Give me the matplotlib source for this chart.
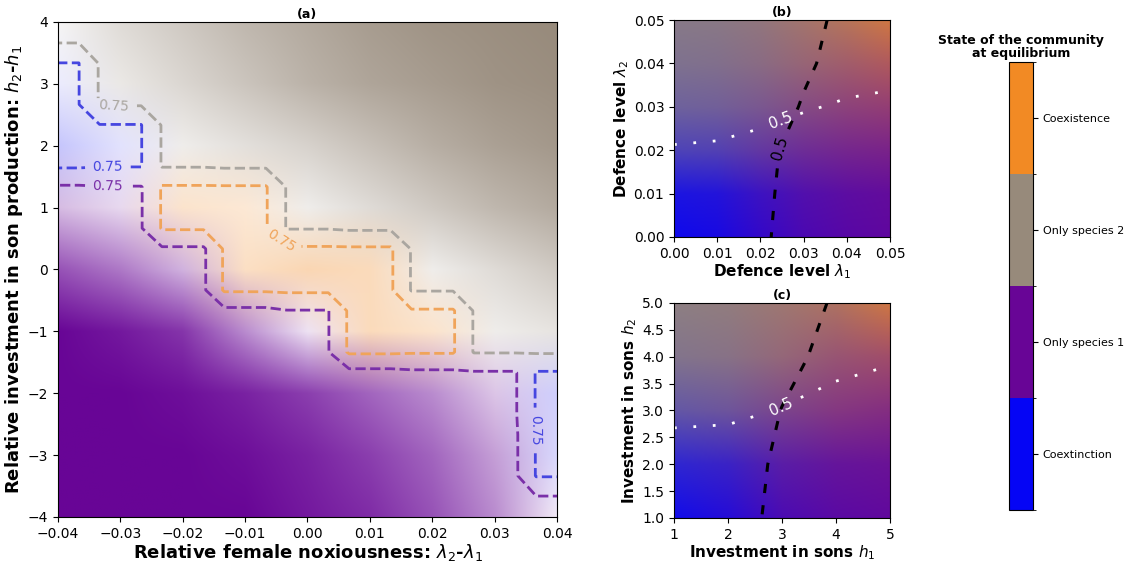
import numpy as np
import matplotlib
matplotlib.use('Agg')
import matplotlib.pyplot as plt
from matplotlib.colors import ListedColormap, BoundaryNorm, to_rgb
from matplotlib.cm import ScalarMappable

# states, bottom to top of the colour bar
state_names = ['Coextinction', 'Only species 1', 'Only species 2', 'Coexistence']
state_colors = ['#0505f5', '#680596', '#978a7b', '#f28a24']
line_colors = ['#4646e0', '#7a30a8', '#aaa6a0', '#f0a45a']

# ---- panel (a): probability of each state, rows from top (4) to bottom (-4)
dlam = [-0.04, -0.03, -0.02, -0.01, 0.0, 0.01, 0.02, 0.03, 0.04]
dh = [4, 3, 2, 1, 0, -1, -2, -3, -4]

p_coext = [
    [0.20, 0.05, 0.00, 0.00, 0.00, 0.00, 0.00, 0.00, 0.00],
    [0.76, 0.15, 0.00, 0.00, 0.00, 0.00, 0.00, 0.00, 0.00],
    [0.80, 0.77, 0.05, 0.00, 0.00, 0.00, 0.00, 0.00, 0.00],
    [0.15, 0.05, 0.00, 0.00, 0.00, 0.00, 0.00, 0.00, 0.00],
    [0.00, 0.00, 0.00, 0.00, 0.00, 0.00, 0.00, 0.00, 0.05],
    [0.00, 0.00, 0.00, 0.00, 0.00, 0.00, 0.00, 0.05, 0.15],
    [0.00, 0.00, 0.00, 0.00, 0.00, 0.00, 0.00, 0.05, 0.79],
    [0.00, 0.00, 0.00, 0.00, 0.00, 0.00, 0.00, 0.08, 0.78],
    [0.00, 0.00, 0.00, 0.00, 0.00, 0.00, 0.00, 0.05, 0.20],
]
p_sp1 = [
    [0.00, 0.00, 0.00, 0.00, 0.00, 0.00, 0.00, 0.00, 0.00],
    [0.02, 0.00, 0.00, 0.00, 0.00, 0.00, 0.00, 0.00, 0.00],
    [0.10, 0.05, 0.02, 0.00, 0.00, 0.00, 0.00, 0.00, 0.00],
    [0.81, 0.78, 0.15, 0.08, 0.02, 0.00, 0.00, 0.00, 0.00],
    [0.92, 0.88, 0.82, 0.16, 0.10, 0.05, 0.02, 0.00, 0.00],
    [1.00, 0.98, 0.95, 0.86, 0.77, 0.10, 0.05, 0.02, 0.00],
    [1.00, 1.00, 0.99, 0.97, 0.94, 0.90, 0.86, 0.80, 0.03],
    [1.00, 1.00, 1.00, 0.99, 0.97, 0.94, 0.90, 0.84, 0.05],
    [1.00, 1.00, 1.00, 1.00, 0.98, 0.96, 0.92, 0.86, 0.76],
]
p_sp2 = [
    [0.76, 0.82, 0.86, 0.90, 0.93, 0.96, 0.98, 0.99, 1.00],
    [0.20, 0.79, 0.83, 0.87, 0.91, 0.94, 0.96, 0.98, 0.99],
    [0.05, 0.15, 0.78, 0.81, 0.84, 0.88, 0.92, 0.95, 0.97],
    [0.02, 0.12, 0.05, 0.14, 0.78, 0.82, 0.86, 0.90, 0.93],
    [0.00, 0.05, 0.08, 0.03, 0.08, 0.15, 0.78, 0.82, 0.86],
    [0.00, 0.00, 0.03, 0.05, 0.04, 0.08, 0.15, 0.78, 0.80],
    [0.00, 0.00, 0.00, 0.02, 0.05, 0.08, 0.12, 0.15, 0.15],
    [0.00, 0.00, 0.00, 0.00, 0.02, 0.05, 0.08, 0.12, 0.17],
    [0.00, 0.00, 0.00, 0.00, 0.00, 0.03, 0.06, 0.10, 0.04],
]
p_coex = [
    [0.00, 0.00, 0.00, 0.00, 0.00, 0.00, 0.00, 0.00, 0.00],
    [0.00, 0.00, 0.05, 0.05, 0.02, 0.00, 0.00, 0.00, 0.00],
    [0.00, 0.00, 0.15, 0.15, 0.10, 0.05, 0.02, 0.00, 0.00],
    [0.00, 0.00, 0.80, 0.79, 0.15, 0.10, 0.05, 0.00, 0.00],
    [0.00, 0.00, 0.10, 0.81, 0.83, 0.82, 0.15, 0.05, 0.00],
    [0.00, 0.00, 0.00, 0.05, 0.20, 0.82, 0.80, 0.15, 0.00],
    [0.00, 0.00, 0.00, 0.00, 0.02, 0.05, 0.05, 0.05, 0.00],
    [0.00, 0.00, 0.00, 0.00, 0.00, 0.00, 0.00, 0.00, 0.00],
    [0.00, 0.00, 0.00, 0.00, 0.00, 0.00, 0.00, 0.00, 0.00],
]

# ---- panel (b): persistence of species 1 and 2, rows lambda2 = 0..0.05, cols lambda1 = 0..0.05
lam = [0.0, 0.01, 0.02, 0.03, 0.04, 0.05]
b_p1 = [
    [0.05, 0.15, 0.44, 0.68, 0.82, 0.90],
    [0.05, 0.14, 0.42, 0.66, 0.80, 0.88],
    [0.04, 0.12, 0.40, 0.63, 0.78, 0.87],
    [0.03, 0.10, 0.28, 0.53, 0.72, 0.85],
    [0.02, 0.08, 0.22, 0.44, 0.64, 0.84],
    [0.02, 0.06, 0.18, 0.38, 0.60, 0.84],
]
b_p2 = [
    [0.03, 0.03, 0.02, 0.02, 0.01, 0.01],
    [0.12, 0.11, 0.10, 0.08, 0.06, 0.05],
    [0.47, 0.45, 0.38, 0.30, 0.25, 0.22],
    [0.70, 0.68, 0.62, 0.53, 0.46, 0.42],
    [0.82, 0.80, 0.77, 0.72, 0.66, 0.63],
    [0.88, 0.87, 0.85, 0.84, 0.84, 0.86],
]

# ---- panel (c): rows h2 = 1..5, cols h1 = 1..5
hh = [1, 2, 3, 4, 5]
c_p1 = [
    [0.05, 0.25, 0.65, 0.82, 0.90],
    [0.05, 0.22, 0.60, 0.80, 0.88],
    [0.04, 0.18, 0.51, 0.75, 0.86],
    [0.03, 0.12, 0.38, 0.63, 0.82],
    [0.02, 0.10, 0.30, 0.54, 0.84],
]
c_p2 = [
    [0.05, 0.05, 0.04, 0.03, 0.02],
    [0.25, 0.22, 0.18, 0.12, 0.10],
    [0.62, 0.60, 0.48, 0.38, 0.30],
    [0.84, 0.82, 0.74, 0.60, 0.54],
    [0.92, 0.90, 0.86, 0.82, 0.86],
]

cols = np.array([to_rgb(c) for c in state_colors])

fig = plt.figure(figsize=(11.28, 5.62), dpi=100)

# ================= panel (a)
ax = fig.add_axes([0.0514, 0.0801, 0.4424, 0.8808])
P = np.array([p_coext, p_sp1, p_sp2, p_coex])[:, ::-1, :]
idx = P.argmax(0)
alpha = np.clip((P.max(0) - 0.74) / 0.26, 0, 1)
rgb = 1 - alpha[..., None] * (1 - cols[idx])
dx, dy = 0.01, 1.0
ext = [min(dlam) - dx / 2, max(dlam) + dx / 2, min(dh) - dy / 2, max(dh) + dy / 2]
ax.imshow(rgb, origin='lower', extent=ext, aspect='auto', interpolation='bilinear')

# contours follow the cells of the grid (each cell repeated 3x3)
rep = 3
Pr = P.repeat(rep, axis=1).repeat(rep, axis=2)
xs = np.linspace(ext[0] + dx / rep / 2, ext[1] - dx / rep / 2, len(dlam) * rep)
ys = np.linspace(ext[2] + dy / rep / 2, ext[3] - dy / rep / 2, len(dh) * rep)

label_pos = {0: [(-0.032, 1.65), (0.0378, -2.6)], 1: [(-0.032, 1.3)],
             2: [(-0.031, 2.9)], 3: [(-0.003, 0.6)]}
for k in range(4):
    cs = ax.contour(xs, ys, Pr[k], levels=[0.75], colors=[line_colors[k]],
                    linestyles='--', linewidths=2)
    ax.clabel(cs, manual=label_pos[k], inline=True, fmt={0.75: '0.75'}, fontsize=10)
ax.set_xlim(-0.04, 0.04)
ax.set_ylim(-4, 4)
ax.set_xticks([-0.04, -0.03, -0.02, -0.01, 0.0, 0.01, 0.02, 0.03, 0.04])
ax.set_yticks([-4, -3, -2, -1, 0, 1, 2, 3, 4])
ax.tick_params(labelsize=10)
ax.set_xlabel(r'Relative female noxiousness: $\lambda_2$-$\lambda_1$', fontsize=13,
              fontweight='bold', labelpad=1)
ax.set_ylabel(r'Relative investment in son production: $h_2$-$h_1$', fontsize=13,
              fontweight='bold', labelpad=2)
ax.set_title('(a)', fontsize=9, fontweight='bold', pad=3)


def blend(p1, p2):
    p1 = np.asarray(p1)[..., None]
    p2 = np.asarray(p2)[..., None]
    return ((1 - p1) * (1 - p2) * cols[0] + p1 * (1 - p2) * cols[1]
            + (1 - p1) * p2 * cols[2] + p1 * p2 * cols[3])


def small_panel(rect, xv, yv, p1, p2, title, xlabel, ylabel, black_lab, white_lab):
    axs = fig.add_axes(rect)
    step = xv[1] - xv[0]
    e = [xv[0] - step / 2, xv[-1] + step / 2, yv[0] - step / 2, yv[-1] + step / 2]
    axs.imshow(blend(p1, p2), origin='lower', extent=e, aspect='auto',
               interpolation='bilinear')
    c1 = axs.contour(xv, yv, np.array(p1), levels=[0.5], colors='black',
                     linestyles=[(0, (3, 4))], linewidths=2.2)
    c2 = axs.contour(xv, yv, np.array(p2), levels=[0.5], colors='white',
                     linestyles=[(0, (1, 6))], linewidths=2)
    if black_lab:
        axs.clabel(c1, manual=black_lab, inline=True, fmt={0.5: '0.5'}, fontsize=11)
    axs.clabel(c2, manual=white_lab, inline=True, fmt={0.5: '0.5'}, fontsize=11)
    axs.set_xlim(xv[0], xv[-1])
    axs.set_ylim(yv[0], yv[-1])
    axs.tick_params(labelsize=10)
    axs.set_title(title, fontsize=9, fontweight='bold', pad=3)
    axs.set_xlabel(xlabel, fontsize=11, fontweight='bold', labelpad=1)
    axs.set_ylabel(ylabel, fontsize=11, fontweight='bold', labelpad=2)
    return axs


axb = small_panel([0.5975, 0.5783, 0.1915, 0.386], lam, lam, b_p1, b_p2, '(b)',
                  r'Defence level $\lambda_1$', r'Defence level $\lambda_2$',
                  [(0.0245, 0.0205)], [(0.025, 0.0262)])
axb.set_xticks(lam)
axb.set_yticks(lam)
axb.xaxis.set_major_formatter('{x:.2f}')
axb.yaxis.set_major_formatter('{x:.2f}')

axc = small_panel([0.5975, 0.0783, 0.1915, 0.3826], hh, hh, c_p1, c_p2, '(c)',
                  r'Investment in sons $h_1$', r'Investment in sons $h_2$',
                  None, [(3.0, 3.05)])
axc.set_xticks(hh)
axc.set_yticks([1.0, 1.5, 2.0, 2.5, 3.0, 3.5, 4.0, 4.5, 5.0])
axc.yaxis.set_major_formatter('{x:.1f}')

# ================= colour bar
cax = fig.add_axes([0.8945, 0.0925, 0.0213, 0.797])
sm = ScalarMappable(norm=BoundaryNorm([0, 1, 2, 3, 4], 4), cmap=ListedColormap(state_colors))
cb = fig.colorbar(sm, cax=cax, ticks=[0.5, 1.5, 2.5, 3.5])
cb.set_ticklabels(state_names)
cb.ax.tick_params(labelsize=8)
cax.set_title('State of the community\nat equilibrium', fontsize=9, fontweight='bold',
              linespacing=0.95, pad=4)

fig.savefig('out.png', dpi=100)
